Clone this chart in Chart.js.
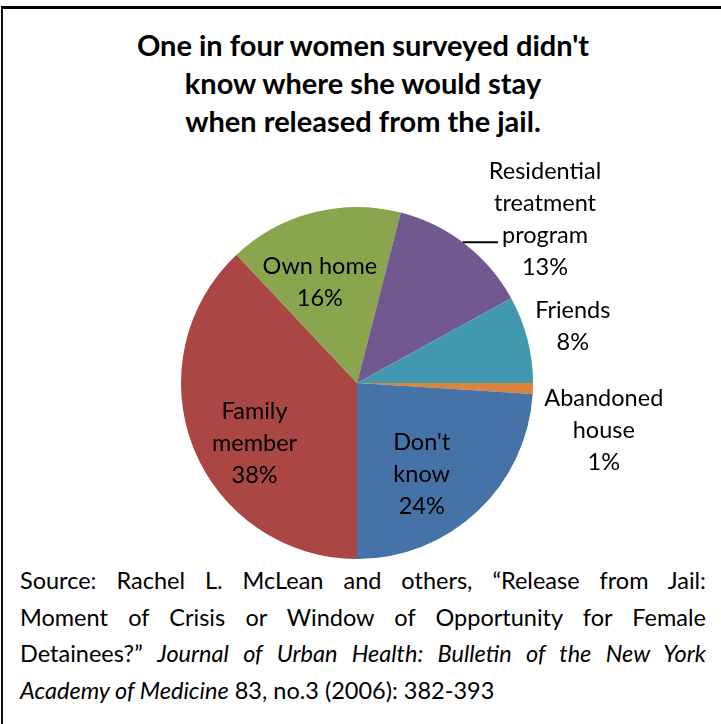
<!DOCTYPE html>
<html>
<head>
<meta charset="utf-8">
<script src="https://cdn.jsdelivr.net/npm/chart.js@4/dist/chart.umd.min.js"></script>
<style>
  html, body { margin: 0; padding: 0; background: #fff; }
  body { width: 721px; height: 724px; position: relative; overflow: hidden; font-family: Lato, "Open Sans", sans-serif; color: #000; }
  #frame { position: absolute; left: 1px; top: 6px; width: 740px; height: 740px; border-top: 3px solid #000; border-left: 2px solid #111; }
  #title { position: absolute; left: 4px; width: 718px; top: 26px; text-align: center; font-weight: bold; font-size: 29px; line-height: 38px; }
  #source { position: absolute; left: 20px; width: 686px; top: 562px; font-size: 23.5px; line-height: 36.5px; }
  #source div { text-align: justify; text-align-last: justify; white-space: nowrap; }
  #source div.last { text-align: left; text-align-last: left; }
  #chart { position: absolute; left: 0; top: 0; }
</style>
</head>
<body>
<div id="frame"></div>
<div id="title">One in four women surveyed didn't<br>know where she would stay<br>when released from the jail.</div>
<div id="source">
  <div>Source: Rachel L. McLean and others, “Release from Jail:</div>
  <div>Moment of Crisis or Window of Opportunity for Female</div>
  <div>Detainees?” <i>Journal of Urban Health: Bulletin of the New York</i></div>
  <div class="last"><i>Academy of Medicine</i> 83, no.3 (2006): 382-393</div>
</div>
<canvas id="chart" width="721" height="724"></canvas>
<script>
// where the women expected to stay after release, in percent
const categories = ['Abandoned house', "Don't know", 'Family member', 'Own home', 'Residential treatment program', 'Friends'];
const shares = [1, 24, 38, 16, 13, 8];
const labelLines = [['Abandoned', 'house'], ["Don't", 'know'], ['Family', 'member'], ['Own home'], ['Residential', 'treatment', 'program'], ['Friends']];
const sliceColors = ['#DB843D', '#4572A7', '#AA4643', '#89A54E', '#71588F', '#4198AF'];

// label placement: fraction of radius along the slice's mid angle, then a nudge in px
const labelPlace = [
  { f: 1.42, dx: -3, dy: 40 },
  { f: 0.62, dx: -10, dy: 12 },
  { f: 0.62, dx: -1, dy: 20 },
  { f: 0.62, dx: -10, dy: 5 },
  { f: 1.40, dx: 37, dy: 31, leader: 2 },
  { f: 1.26, dx: 1, dy: -1 }
];

const sliceLabels = {
  id: 'sliceLabels',
  afterDatasetsDraw(chart) {
    const ctx = chart.ctx;
    const arcs = chart.getDatasetMeta(0).data;
    const lineH = 32;
    ctx.save();
    ctx.font = '23.5px Lato, "Open Sans", sans-serif';
    ctx.fillStyle = '#000';
    ctx.textAlign = 'center';
    ctx.textBaseline = 'middle';
    arcs.forEach((arc, i) => {
      const p = labelPlace[i];
      const mid = (arc.startAngle + arc.endAngle) / 2;
      const r = arc.outerRadius * p.f;
      const x = arc.x + Math.cos(mid) * r + p.dx;
      const y = arc.y + Math.sin(mid) * r + p.dy;
      const lines = labelLines[i].concat([shares[i] + '%']);
      const top = y - (lines.length - 1) * lineH / 2;
      lines.forEach((t, k) => ctx.fillText(t, x, top + k * lineH));
      if (p.leader !== undefined) {
        // short horizontal leader from the pie edge to the label line
        const ly = top + p.leader * lineH + 7;
        const w = ctx.measureText(lines[p.leader]).width;
        const x1 = x - w / 2 - 4;
        const x0 = arc.x + Math.sqrt(Math.max(0, arc.outerRadius ** 2 - (ly - arc.y) ** 2));
        ctx.strokeStyle = '#000';
        ctx.lineWidth = 2;
        ctx.beginPath();
        ctx.moveTo(x0, ly);
        ctx.lineTo(x1, ly);
        ctx.stroke();
      }
    });
    ctx.restore();
  }
};

new Chart(document.getElementById('chart'), {
  type: 'pie',
  data: {
    labels: categories,
    datasets: [{
      data: shares,
      backgroundColor: sliceColors,
      borderWidth: 0
    }]
  },
  options: {
    responsive: false,
    animation: false,
    rotation: 90,
    layout: { padding: { left: 181, right: 188, top: 207, bottom: 165 } },
    plugins: {
      legend: { display: false },
      title: { display: false },
      tooltip: { enabled: false }
    }
  },
  plugins: [sliceLabels]
});
</script>
</body>
</html>
